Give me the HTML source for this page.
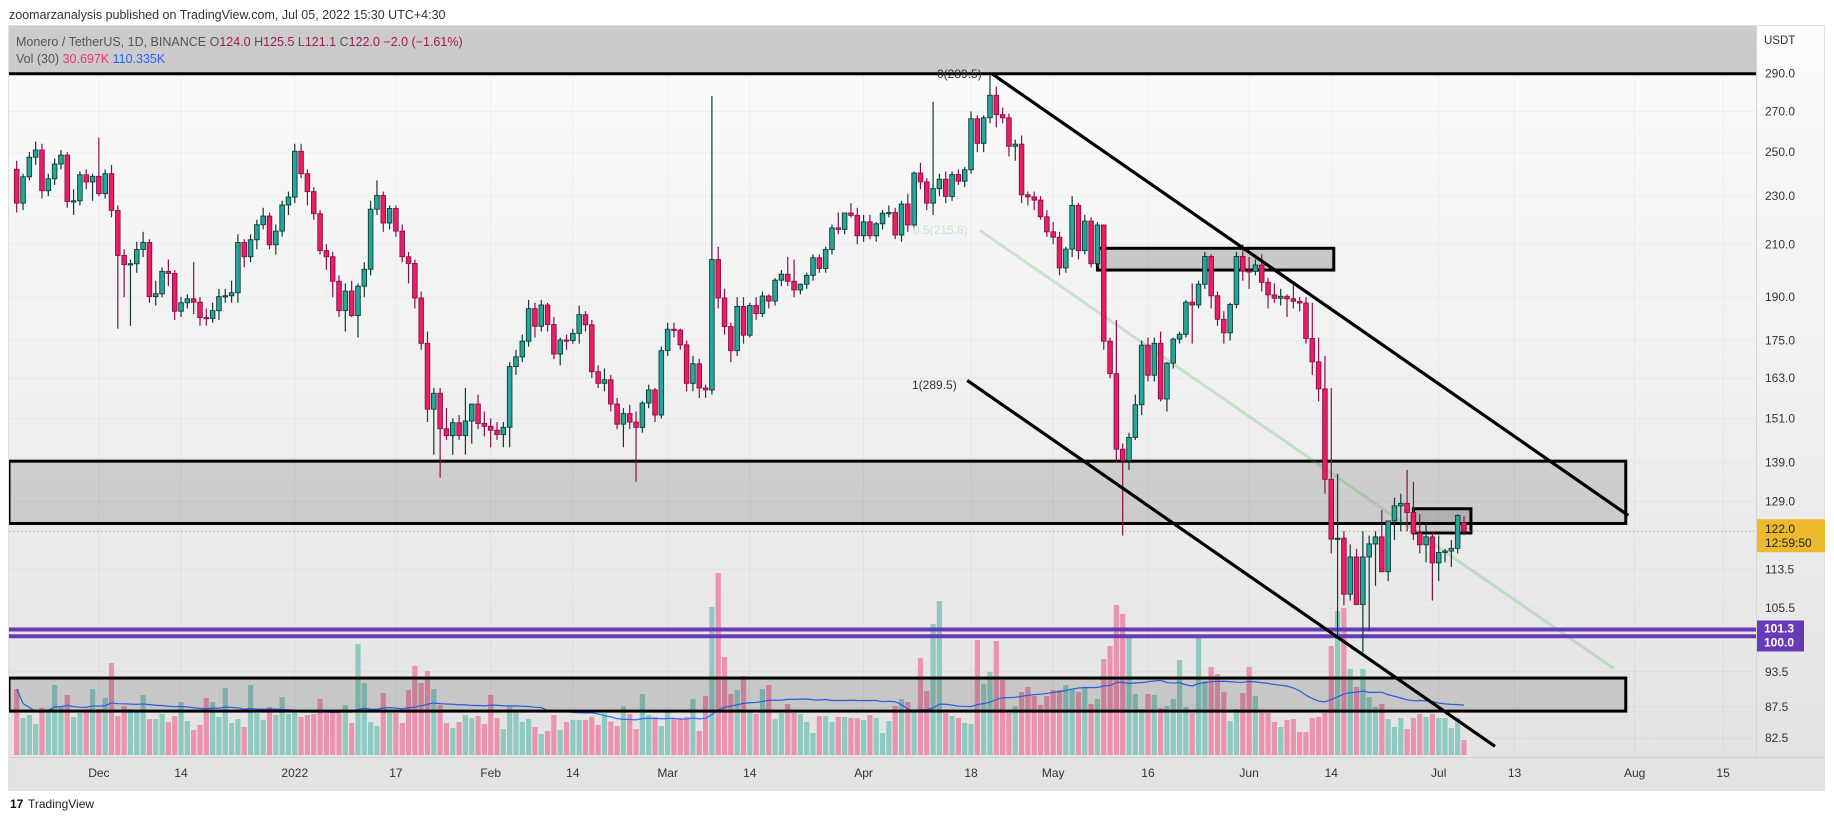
<!DOCTYPE html>
<html><head><meta charset="utf-8"><style>
html,body{margin:0;padding:0;background:#fff;}
svg{display:block;font-family:"Liberation Sans",sans-serif;}
</style></head><body>
<svg id="chart" width="1834" height="818" viewBox="0 0 1834 818" xmlns="http://www.w3.org/2000/svg">
<defs>
<linearGradient id="bg" x1="0" y1="0" x2="0" y2="1"><stop offset="0" stop-color="#fcfcfc"/><stop offset="1" stop-color="#e3e3e3"/></linearGradient>
<clipPath id="plotClip"><rect x="9" y="26" width="1747" height="731"/></clipPath>
</defs>
<text x="9" y="19" font-size="12.5" fill="#333">zoomarzanalysis published on TradingView.com, Jul 05, 2022 15:30 UTC+4:30</text>
<rect x="8.5" y="25.5" width="1816" height="765" fill="#fff" stroke="#e0e0e0"/>
<rect x="9" y="26" width="1747" height="731" fill="url(#bg)"/>
<rect x="1757" y="26" width="67" height="731" fill="url(#bg)"/>
<line x1="1756.5" y1="26" x2="1756.5" y2="790" stroke="#d6d6d6"/>
<rect x="9" y="757" width="1815" height="33" fill="#e3e3e3"/>
<line x1="9" y1="757.5" x2="1824" y2="757.5" stroke="#d0d0d0"/>
<g id="grid" clip-path="url(#plotClip)"></g>
<g id="vol" clip-path="url(#plotClip)"></g>
<g id="draw" clip-path="url(#plotClip)"></g>
<g id="candles" clip-path="url(#plotClip)"></g>
<g id="over" clip-path="url(#plotClip)"></g>
<g id="axes"></g>
<text x="16" y="46" font-size="12.5" fill="#555">Monero / TetherUS, 1D, BINANCE  <tspan fill="#555">O</tspan><tspan fill="#a0195a">124.0</tspan>  <tspan fill="#555">H</tspan><tspan fill="#a0195a">125.5</tspan>  <tspan fill="#555">L</tspan><tspan fill="#a0195a">121.1</tspan>  <tspan fill="#555">C</tspan><tspan fill="#a0195a">122.0  −2.0 (−1.61%)</tspan></text>
<text x="16" y="63" font-size="12.5" fill="#555">Vol (30)  <tspan fill="#f0356c">30.697K</tspan>  <tspan fill="#2962ff">110.335K</tspan></text>
<text x="28" y="808" font-size="12" fill="#222">TradingView</text>
<text x="10" y="808" font-size="12" font-weight="bold" fill="#111">17</text>
</svg>
<script>
const closes=[227,238.6,247.6,251,232.4,237.7,244.4,248.6,227.7,228,
239.5,236.3,238.8,231.1,240,223.9,205.6,202.1,202.4,207.9,
210.7,190.2,191.2,199.5,198.7,185,188,189.4,188.2,182.8,
182.5,185.2,190.2,190.5,191.6,210.7,205.1,211.8,217.9,221.5,
209.8,215.3,226.2,229.6,250.4,240,232,222.5,207.5,205.1,
195.8,185.2,192.2,183.5,194,200.3,224.4,230.3,218.6,224.7,
215.3,205.1,202.5,189.7,174.1,153.7,158.4,148.1,146.2,149.8,
146.2,150.3,155.2,149.6,148.8,147.7,146.5,148.5,166.6,169.7,
174.8,185.9,179.8,187.2,180.4,170.6,175.2,175,177.4,183.8,
180.3,165,161.4,162.5,155.2,149.4,152.4,150,148.5,155.5,
159.4,152,171.7,178.8,178.5,173.6,161.4,167.5,160,159.4,
204,189.7,179.7,171.7,186.7,176.8,187,184.2,190.4,188.6,
196.2,198.4,195.8,192.6,194.7,198,204.7,200.6,207.9,216.6,
216,222.8,221.8,213.4,219.1,213.4,218.3,222.7,223,213.7,
226.6,217.8,240.3,236.3,227,233.3,237.5,229.9,239.6,236.6,
241.8,266.3,254.2,266.8,278.4,268.4,266.8,252.8,253.8,230.6,
229.7,228.3,221.2,215,212.8,200.8,208.1,226,207.5,219.4,
202.4,217.8,174.8,164.4,142.5,139.5,145.7,155,173.5,163.9,
174.1,156.7,167.7,175.5,177.1,188.2,187.2,194.7,205.2,190.5,
182.2,177.6,187.4,205.2,199.7,199.5,201.9,195.4,190.8,189.6,
190.3,189.4,188.5,187.9,175.7,168.1,159.7,134.6,120.2,120.4,
108.3,116.2,106.2,116.2,119.1,120.7,113,124.4,128,128.6,
126.4,121.5,118.9,120.7,114.9,117.2,117.5,118.1,125.7,122];
const opens=[242,227,238.6,247.6,251,232.4,237.7,244.4,248.6,227.7,
228,239.5,236.3,238.8,231.1,240,223.9,205.6,202.1,202.4,
207.9,210.7,190.2,191.2,199.5,198.7,185,188,189.4,188.2,
182.8,182.5,185.2,190.2,190.5,191.6,210.7,205.1,211.8,217.9,
221.5,209.8,215.3,226.2,229.6,250.4,240,232,222.5,207.5,
205.1,195.8,185.2,192.2,183.5,194,200.3,224.4,230.3,218.6,
224.7,215.3,205.1,202.5,189.7,174.1,153.7,158.4,148.1,146.2,
149.8,146.2,150.3,155.2,149.6,148.8,147.7,146.5,148.5,166.6,
169.7,174.8,185.9,179.8,187.2,180.4,170.6,175.2,175,177.4,
183.8,180.3,165,161.4,162.5,155.2,149.4,152.4,150,148.5,
155.5,159.4,152,171.7,178.8,178.5,173.6,161.4,167.5,160,
159.4,204,189.7,179.7,171.7,186.7,176.8,187,184.2,190.4,
188.6,196.2,198.4,195.8,192.6,194.7,198,204.7,200.6,207.9,
216.6,216,222.8,221.8,213.4,219.1,213.4,218.3,222.7,223,
213.7,226.6,217.8,240.3,236.3,227,233.3,237.5,229.9,239.6,
236.6,241.8,266.3,254.2,266.8,278.4,268.4,266.8,252.8,253.8,
230.6,229.7,228.3,221.2,215,212.8,200.8,208.1,226,207.5,
219.4,202.4,217.8,174.8,164.4,142.5,139.5,145.7,155,173.5,
163.9,174.1,156.7,167.7,175.5,177.1,188.2,187.2,194.7,205.2,
190.5,182.2,177.6,187.4,205.2,199.7,199.5,201.9,195.4,190.8,
189.6,190.3,189.4,188.5,187.9,175.7,168.1,159.7,134.6,120.2,
120.4,108.3,116.2,106.2,116.2,119.1,120.7,113,124.4,128,
128.6,126.4,121.5,118.9,120.7,114.9,117.2,117.5,118.1,124];
const highs=[246,240,250,255,254,240,247,251,250,233,
241,242,240,257,242,244,226,208,204,211,
215,212,196,201,204,200,190,191,203,190,
186,188,193,193,196,214,212,214,220,225,
223,218,228,232,254,254,242,234,224,210,
207,198,195,196,195,203,228,237,232,226,
226,218,207,204,192,178,160,160,154,151,
152,160,152,158,153,151,150,150,168,172,
177,189,188,189,188,183,176,177,179,187,
185,182,167,166,164,157,154,155,153,156,
161,160,173,181,181,179,175,170,169,161,
278,209,193,181,190,190,188,190,192,191,
197,200,205,204,195,199,206,206,209,218,
223,217,227,225,222,222,219,224,226,225,
228,231,241,245,238,275,240,241,241,242,
243,270,268,268,289,283,272,269,256,258,
232,232,230,224,219,215,209,230,227,222,
221,219,218,176,182,144,147,158,175,176,
176,178,168,176,178,189,195,196,207,206,
192,185,188,207,210,205,204,206,197,195,
193,191,195,190,190,188,176,170,160,136,
122,119,118,122,121,122,127,124,130,131,
137,134,126,124,122,121,118,120,126,125.5];
const lows=[223,224,237,244,229,230,235,242,225,222,
226,233,228,230,229,221,179,190,180,199,
205,188,187,190,194,182,183,186,184,180,
180,181,182,188,188,188,201,203,208,216,
208,206,213,222,227,238,226,220,206,200,
190,183,178,183,176,190,198,222,215,216,
213,203,195,186,172,150,141,135,145,141,
145,141,144,148,146,143,145,143,143,164,
168,173,176,178,178,169,167,172,174,174,
178,163,160,159,153,148,143,148,134,147,
154,150,151,170,176,172,159,159,157,157,
158,186,177,168,170,174,176,182,183,186,
187,194,194,190,191,193,196,199,199,206,
214,214,221,210,211,212,211,216,221,212,
211,215,216,233,224,222,230,227,228,235,
234,240,250,250,264,262,264,248,246,227,
226,224,220,213,210,198,199,205,204,206,
201,201,172,163,139,121,137,145,152,162,
162,156,153,166,174,176,174,186,193,186,
180,174,175,186,196,193,198,192,186,188,
187,183,186,185,174,164,156,131,117,100,
106,107,108,97,101,110,119,111,120,122,
122,120,117,115,107,111,115,114,117,121.1];
const volumes=[198,111,120,93,141,138,210,147,180,114,
126,138,198,138,171,276,117,147,138,135,
180,108,108,123,99,117,159,102,75,90,
171,159,114,201,96,108,84,210,126,105,
144,120,174,123,126,114,120,123,168,126,
135,126,150,96,333,216,99,87,186,126,
126,96,195,267,216,252,198,150,96,81,
99,120,111,117,93,180,111,78,147,135,
99,108,84,63,72,120,75,99,105,105,
105,115,90,125,100,
87,147,123,78,183,120,114,87,135,111,
111,114,168,72,177,444,546,294,183,195,
237,135,123,198,210,108,126,153,126,123,99,
66,117,117,99,114,114,111,111,105,120,
111,66,102,147,168,159,138,291,192,393,
462,126,117,111,96,93,345,213,249,342,
225,126,147,189,204,177,150,177,195,195,
210,198,189,201,153,168,288,327,450,423,
351,183,138,183,180,141,147,168,285,144,
126,351,222,264,243,189,102,138,186,264,
177,126,126,99,84,105,108,69,69,111,
114,126,327,432,441,258,204,258,174,144,
153,108,84,111,78,111,123,114,123,111,
111,81,111,45];
const priceTicks=[290,270,250,230,210,190,175,163,151,139,129,113.5,105.5,93.5,87.5,82.5];
const timeTickDays=[13,26,44,60,75,88,103,116,134,151,164,179,195,208,225,237,256,270];
const timeTickLabels=["Dec","14","2022","17","Feb","14","Mar","14","Apr","18","May","16","Jun","14","Jul","13","Aug","15"];
const NS="http://www.w3.org/2000/svg";
const X0=16.7, STEP=6.32, TOPY=73.7, LOGK=528.4, VBASE=755, VSCALE=1/3;
function xOf(i){return X0+i*STEP;}
function yOf(p){return TOPY+(Math.log(290)-Math.log(p))*LOGK;}
function vh(v){return v*VSCALE;}
function mk(tag,attrs,parent){const e=document.createElementNS(NS,tag);for(const k in attrs)e.setAttribute(k,attrs[k]);parent.appendChild(e);return e;}
const G=id=>document.getElementById(id);
// grid
timeTickDays.forEach(d=>{const l=mk('line',{x1:xOf(d),x2:xOf(d),y1:74,y2:757,stroke:'rgba(0,0,0,0.035)'},G('grid'));

});
priceTicks.forEach(p=>{const l=mk('line',{x1:9,x2:1756,y1:yOf(p),y2:yOf(p),stroke:'rgba(0,0,0,0.035)'},G('grid'));

});
// volumes
const n=closes.length;
for(let i=0;i<n&&i<volumes.length;i++){
  const up=closes[i]>=opens[i];const h=vh(volumes[i]);
  const r=mk('rect',{x:xOf(i)-2.6,y:VBASE-h,width:5.2,height:h,fill:up?'#8fc9c0':'#ea94b0'},G('vol'));
  
  
}
// volume MA 30
let pts=[];
for(let i=0;i<Math.min(n,volumes.length);i++){let s=0,c=0;for(let j=Math.max(0,i-29);j<=i;j++){s+=volumes[j];c++;}pts.push(xOf(i)+','+(VBASE-vh(s/c)));}
const ma=mk('polyline',{points:pts.join(' '),fill:'none',stroke:'#2f6bff','stroke-width':1.2},G('vol'));


// drawings (price/time anchors)
const D=G('draw');
function zone(i1,i2,p1,p2,name,fill){const y1=yOf(p1),y2=yOf(p2);const x1=i1===null?9:xOf(i1);
 const r=mk('rect',{x:x1,y:y1,width:xOf(i2)-x1,height:y2-y1,fill:fill||'rgba(0,0,0,0.13)',stroke:'#000','stroke-width':3},D);
 
 }
const band=mk('rect',{x:9,y:26,width:1747,height:yOf(290)-26,fill:'#cbcbcb'},D);


const topLine=mk('line',{x1:9,x2:1756,y1:yOf(290),y2:yOf(290),stroke:'#000','stroke-width':3},D);


zone(null,254.6,139.3,123.8,'support-zone-139');
zone(null,254.6,92.4,86.8,'support-zone-90');
zone(171,208.4,208.4,200,'resistance-zone-205','rgba(0,0,0,0.18)');
zone(221,230.1,127.3,121.6,'small-zone-125','rgba(0,0,0,0.13)');
const fib=mk('line',{x1:xOf(152.4),y1:yOf(215.6),x2:xOf(252.7),y2:yOf(94.1),stroke:'rgba(76,175,80,0.25)','stroke-width':3},D);


const purp=[101.3,100];
purp.forEach(p=>{const l=mk('line',{x1:9,x2:1756,y1:yOf(p),y2:yOf(p),stroke:'#673ab7','stroke-width':4},D);

});
const pl=mk('line',{x1:9,x2:1756,y1:yOf(122),y2:yOf(122),stroke:'#e0ae2a','stroke-width':1,'stroke-dasharray':'1.5,2.5'},D);


// candles
for(let i=0;i<n;i++){
  const o=opens[i],c=closes[i],up=c>=o,x=xOf(i);
  const g=mk('g',{},G('candles'));
  
  
  mk('line',{x1:x,x2:x,y1:yOf(highs[i]),y2:yOf(lows[i]),stroke:up?'#0d3b35':'#8a0f4a','stroke-width':1.2},g);
  const yt=yOf(Math.max(o,c)),yb=yOf(Math.min(o,c));
  mk('rect',{x:x-2.3,y:yt,width:4.6,height:Math.max(1.2,yb-yt),fill:up?'#26a69a':'#e91e63',stroke:up?'#0d3b35':'#8a0f4a','stroke-width':0.9},g);
}
// trend lines on top
const O=G('over');
const tl1=mk('line',{x1:xOf(154.3),y1:yOf(290),x2:xOf(255),y2:yOf(125.7),stroke:'#000','stroke-width':3.2},O);


const tl2=mk('line',{x1:xOf(150.4),y1:yOf(162.3),x2:xOf(233.9),y2:yOf(81.2),stroke:'#000','stroke-width':3.2},O);


function lab(x,y,t,fill,name){const e=mk('text',{x:x,y:y,'font-size':12,fill:fill},O);e.textContent=t;
 
 }
lab(937,78,'0(289.5)','#333','fib-label-0');
lab(912,389,'1(289.5)','#333','fib-label-1');
lab(913,234,'0.5(215.8)','#c8e3c8','fib-label-05');
// axes labels
const A=G('axes');
const usdt=mk('text',{x:1764,y:44,'font-size':11.5,fill:'#333'},A);usdt.textContent='USDT';


priceTicks.forEach(p=>{const t=mk('text',{x:1765,y:yOf(p)+4,'font-size':12,fill:'#333'},A);t.textContent=p.toFixed(1);

});
const yb=mk('rect',{x:1757,y:yOf(122)-12,width:68,height:33,fill:'#edb92f'},A);


const yt1=mk('text',{x:1765,y:yOf(122)+2,'font-size':12,fill:'#222'},A);yt1.textContent='122.0';


const yt2=mk('text',{x:1765,y:yOf(122)+16,'font-size':12,fill:'#222'},A);yt2.textContent='12:59:50';


const pb=mk('rect',{x:1757,y:yOf(101.3)-9,width:47,height:31,fill:'#673ab7'},A);


purp.forEach((p,k)=>{const t=mk('text',{x:1764,y:yOf(101.3)+3+k*14,'font-size':12,'font-weight':'bold',fill:'#fff'},A);t.textContent=p.toFixed(1);

});
timeTickDays.forEach((d,k)=>{const t=mk('text',{x:xOf(d),y:777,'font-size':12,fill:'#333','text-anchor':'middle'},A);t.textContent=timeTickLabels[k];

});
</script>
</body></html>
